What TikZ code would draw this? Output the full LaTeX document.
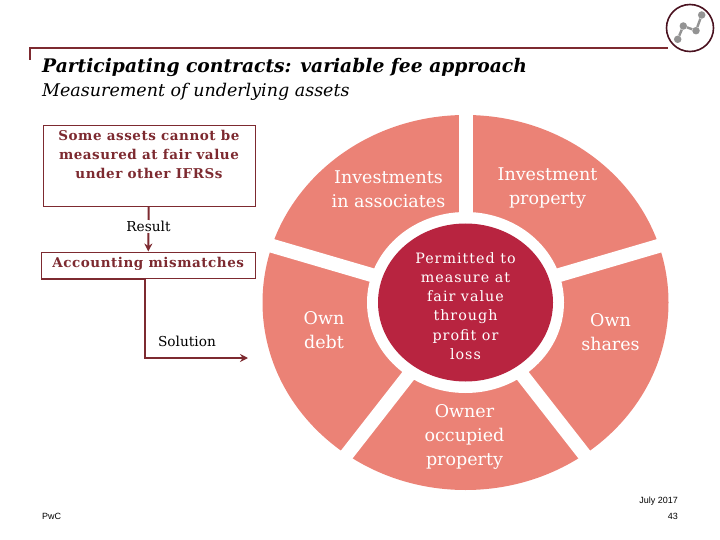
\documentclass[tikz,border=0pt]{standalone}
\usepackage{xcolor}
\usepackage{fontspec}
\setmainfont{DejaVu Serif}
\newfontfamily\spacedserif[LetterSpace=4]{DejaVu Serif}
\newfontfamily\widerserif[LetterSpace=7]{DejaVu Serif}
\newfontfamily\footsans{Liberation Sans}
\definecolor{pwcmaroon}{RGB}{125,42,48}
\definecolor{pwcdark}{RGB}{74,18,32}
\definecolor{petalrose}{RGB}{235,130,118}
\definecolor{hubred}{RGB}{184,36,64}
\usetikzlibrary{shapes.geometric, arrows.meta, positioning, calc}

\begin{document}
\begin{tikzpicture}[
  x=1pt, y=-1pt,
  box/.style={rectangle, draw=pwcmaroon, line width=0.9pt, text=pwcmaroon, align=center,
              font=\spacedserif\bfseries\fontsize{13.5}{19}\selectfont, inner sep=0pt},
  petal/.style={text=white, align=center, font=\fontsize{17.5}{24}\selectfont, inner sep=0pt},
  note/.style={font=\fontsize{13.7}{18}\selectfont, inner sep=1pt},
  line/.style={draw=pwcmaroon, line width=1.9pt},
  spoke/.style={draw=white, line width=14pt},
  foot/.style={font=\footsans\fontsize{9}{10}\selectfont, inner sep=0pt},
  dot/.style={circle, fill=gray!85, inner sep=0pt, minimum size=7.5pt}
]
\useasboundingbox (0,0) rectangle (720,540);

% Header rule and logo
\draw[pwcmaroon, line width=1.5pt] (30,60) |- (668,48);
\node[circle, draw=pwcdark, line width=1.6pt, fill=white, minimum size=47pt, inner sep=0pt] (logo) at (690,28) {};
\node[dot] (d1) at (677.7,39.3) {};
\node[dot] (d2) at (683.3,26) {};
\node[dot] (d3) at (696,30.7) {};
\node[dot] (d4) at (701.7,15) {};
\draw[gray!85, line width=2.4pt] (d1)--(d2)--(d3)--(d4);

% Title
\node[anchor=base west, inner sep=0pt, font=\bfseries\itshape\fontsize{18.7}{26}\selectfont] (title) at (42,73) {Participating contracts: variable fee approach};
\node[anchor=base west, inner sep=0pt, font=\itshape\fontsize{17.5}{24}\selectfont] (subtitle) at (42,97) {Measurement of underlying assets};

% Left column
\node[box, minimum width=212pt, minimum height=80.5pt, anchor=north west, text depth=24pt] (assets) at (42.5,125.5) {Some assets cannot be\\measured at fair value\\under other IFRSs};
\node[note] (result) at (148.5,226.5) {Result};
\node[box, minimum width=213.5pt, minimum height=26.5pt, anchor=north west, text depth=6pt] (mismatch) at (41,251.5) {Accounting mismatches};
\node[note] (solution) at (187,341) {Solution};
\coordinate (solstart) at ($(mismatch.south west)+(104,0)$);
\coordinate (solend) at (248,358);
\draw[line] (assets)--(result);
\draw[line, -{Stealth[length=8pt,width=8pt]}] (result)--(mismatch);
\draw[line] (mismatch.south west)--(solstart);
\draw[line, -{Stealth[length=8pt,width=8pt]}] (solstart) |- (solend);

% Ring
\coordinate (hub) at (465.5,302.5);
\fill[petalrose] (hub) ellipse [x radius=203, y radius=187.5];
\coordinate (gapA) at (465.5,100);
\coordinate (gapB) at (672,242);
\coordinate (gapC) at (612,490);
\coordinate (gapD) at (319,490);
\coordinate (gapE) at (259,242);
\foreach \gap in {gapA,gapB,gapC,gapD,gapE}
  \draw[spoke] (hub)--(\gap);
\fill[white] (hub) ellipse [x radius=98.5, y radius=90.5];
\node[ellipse, fill=hubred, minimum width=175pt, minimum height=158pt, inner sep=0pt] (centre) at (hub) {};
\node[text=white, align=center, font=\widerserif\fontsize{14.3}{19.2}\selectfont] (permitted) at (465.5,306) {Permitted to\\measure at\\fair value\\through\\profit or\\loss};

% Petal labels
\node[petal] (associates) at (388.5,189) {Investments\\in associates};
\node[petal] (property) at (547.5,188) {Investment\\property};
\node[petal] (shares) at (610.5,332.5) {Own\\shares};
\node[petal] (occupied) at (464.5,436.5) {Owner\\occupied\\property};
\node[petal] (debt) at (324,330.5) {Own\\debt};

% Footer
\node[foot, anchor=base east] (date) at (678,503) {July 2017};
\node[foot, anchor=base east] (page) at (678,519) {43};
\node[foot, anchor=base west] (pwc) at (42,519) {PwC};
\end{tikzpicture}
\end{document}
